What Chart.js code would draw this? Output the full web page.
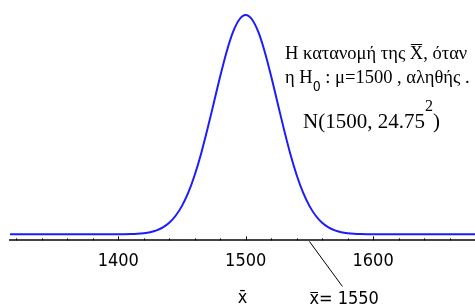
<!DOCTYPE html>
<html>
<head>
<meta charset="utf-8">
<script src="https://cdn.jsdelivr.net/npm/chart.js@4.4.1/dist/chart.umd.min.js"></script>
<style>
  body { margin: 0; background: #fff; }
</style>
</head>
<body>
<canvas id="normChart" width="475" height="305"></canvas>
<script>
// x values of the curve (sample mean) and relative height of the density
const xs = [1315, 1400, 1410, 1415, 1420, 1425, 1430, 1435, 1440, 1445, 1450, 1455, 1460, 1465, 1470, 1475, 1480, 1485, 1490, 1495,
  1500, 1505, 1510, 1515, 1520, 1525, 1530, 1535, 1540, 1545, 1550, 1555, 1560, 1565, 1570, 1575, 1580, 1585, 1590, 1600, 1680];
const ys = [0, 0, 0.0013, 0.0027, 0.0054, 0.010, 0.018, 0.032, 0.053, 0.085, 0.130, 0.191, 0.271, 0.368, 0.480, 0.600, 0.721, 0.832, 0.922, 0.980,
  1.000, 0.980, 0.922, 0.832, 0.721, 0.600, 0.480, 0.368, 0.271, 0.191, 0.130, 0.085, 0.053, 0.032, 0.018, 0.010, 0.0054, 0.0027, 0.0013, 0, 0];

const tickValues = [1320, 1340, 1360, 1380, 1400, 1420, 1440, 1460, 1480, 1500, 1520, 1540, 1560, 1580, 1600, 1620, 1640, 1660, 1680];
const labelValues = [1400, 1500, 1600];
const observedMean = 1550;

const sansFont = '"DejaVu Sans Condensed", "Liberation Sans", sans-serif';
const serifFont = '"Liberation Serif", "DejaVu Serif", serif';

// draws a line of text made of parts with their own font / vertical shift
function drawParts(ctx, x, y, parts) {
  let cx = x;
  parts.forEach(p => {
    ctx.font = p.f;
    ctx.fillText(p.t, cx, y + (p.dy || 0));
    const w = ctx.measureText(p.t).width;
    if (p.bar) {
      ctx.beginPath();
      ctx.lineWidth = 1;
      ctx.moveTo(cx + 1, y - p.bar + 0.5);
      ctx.lineTo(cx + w - 1, y - p.bar + 0.5);
      ctx.stroke();
    }
    cx += w;
  });
}

const extras = {
  id: 'extras',
  afterDraw(chart) {
    const ctx = chart.ctx;
    const xScale = chart.scales.x;
    const area = chart.chartArea;
    ctx.save();
    ctx.strokeStyle = '#000';
    ctx.fillStyle = '#000';

    // small tick marks standing on the axis
    ctx.lineWidth = 1;
    ctx.beginPath();
    tickValues.forEach(v => {
      const px = Math.round(xScale.getPixelForValue(v)) + 0.5;
      const len = labelValues.includes(v) ? 4 : 2;
      ctx.moveTo(px, xScale.top);
      ctx.lineTo(px, xScale.top - len);
    });
    ctx.stroke();

    // leader line for the observed mean
    const mx = xScale.getPixelForValue(observedMean);
    ctx.beginPath();
    ctx.moveTo(mx, xScale.top + 1);
    ctx.lineTo(mx + 33, xScale.top + 46);
    ctx.stroke();

    ctx.textBaseline = 'alphabetic';
    drawParts(ctx, mx, 304, [
      { t: 'x', f: '18px ' + sansFont, bar: 12 },
      { t: '= 1550', f: '18px ' + sansFont }
    ]);

    // annotation text
    const tx = area.left + 275;
    drawParts(ctx, tx, 59, [
      { t: 'Η κατανομή της ', f: '18.5px ' + serifFont },
      { t: 'X', f: '18.5px ' + serifFont, bar: 15 },
      { t: ', όταν', f: '18.5px ' + serifFont }
    ]);
    drawParts(ctx, tx, 83, [
      { t: 'η ', f: '18.5px ' + serifFont },
      { t: 'H', f: '18.5px ' + serifFont },
      { t: '0', f: '14px ' + sansFont, dy: 8 },
      { t: ' : μ=1500 , αληθής .', f: '18.5px ' + serifFont }
    ]);
    drawParts(ctx, tx + 18, 128, [
      { t: 'N(1500, 24.75', f: '21px ' + serifFont },
      { t: '2', f: '16px ' + serifFont, dy: -17 },
      { t: ')', f: '21px ' + serifFont }
    ]);
    ctx.restore();
  }
};

const ctx = document.getElementById('normChart').getContext('2d');
new Chart(ctx, {
  type: 'line',
  data: {
    datasets: [{
      data: xs.map((x, i) => ({ x: x, y: ys[i] })),
      borderColor: '#1c1cff',
      borderWidth: 2,
      pointRadius: 0,
      fill: false,
      cubicInterpolationMode: 'monotone',
      clip: 6
    }]
  },
  options: {
    responsive: false,
    animation: false,
    layout: { padding: { left: 10, right: 0, top: 5, bottom: 0 } },
    plugins: {
      legend: { display: false },
      tooltip: { enabled: false }
    },
    scales: {
      x: {
        type: 'linear',
        min: 1315,
        max: 1680,
        afterBuildTicks: (scale) => { scale.ticks = tickValues.map(v => ({ value: v })); },
        afterFit: (scale) => { scale.paddingLeft = 0; scale.paddingRight = 0; },
        grid: { display: true, drawOnChartArea: false, drawTicks: false },
        border: { display: true, color: '#444', width: 2 },
        ticks: {
          autoSkip: false,
          maxRotation: 0,
          padding: 12,
          color: '#000',
          font: { family: sansFont, size: 18, lineHeight: 1 },
          callback: (v) => labelValues.includes(v) ? String(v) : ''
        },
        title: {
          display: true,
          text: 'x\u0304',
          color: '#000',
          font: { family: sansFont, size: 18, lineHeight: 0.7 },
          padding: { top: 10, bottom: 0 }
        }
      },
      y: {
        display: false,
        min: -0.0275,
        max: 1.046
      }
    }
  },
  plugins: [extras]
});
</script>
</body>
</html>
